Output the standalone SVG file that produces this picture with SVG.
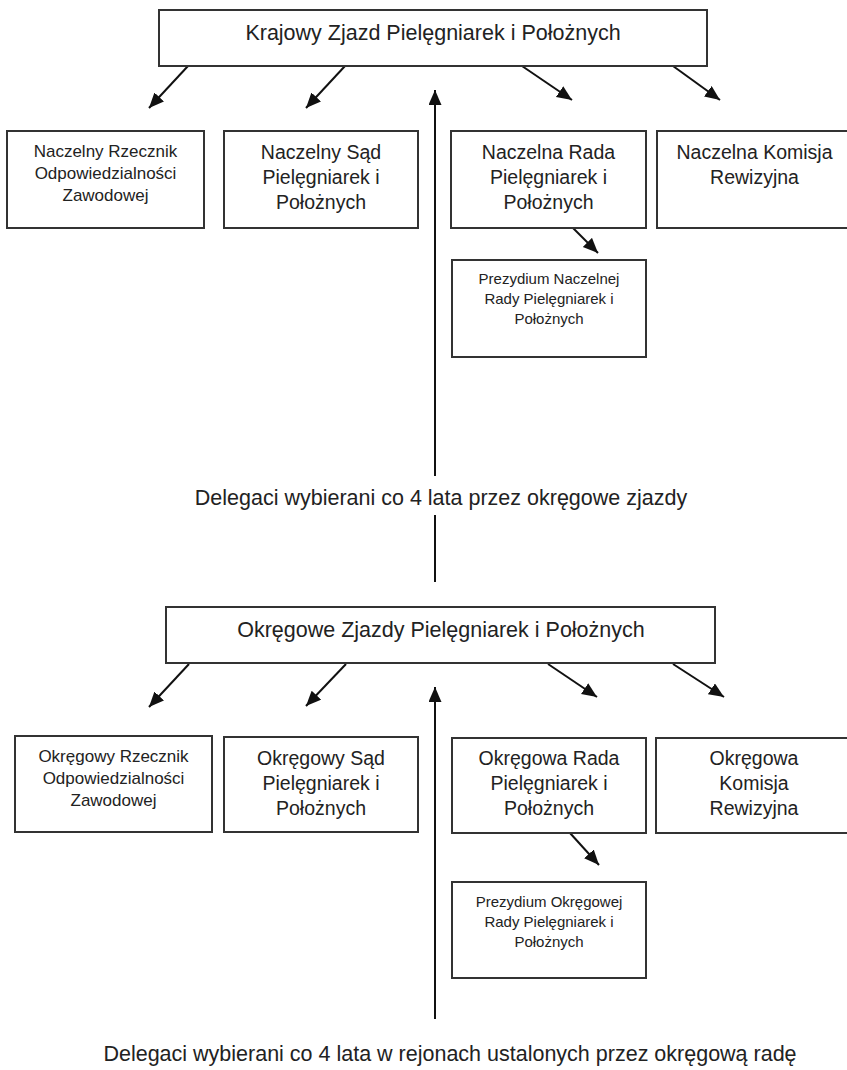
<svg xmlns="http://www.w3.org/2000/svg" width="847" height="1070" viewBox="0 0 847 1070">
<style>
.box{fill:#fff;stroke:#333;stroke-width:2}
.t{font-family:"Liberation Sans",Arial,sans-serif;fill:#222;text-anchor:middle}
.big{font-size:21.5px}
.m{font-size:19.5px}
.s{font-size:17px}
.xs{font-size:15px}
.c{stroke:#111;stroke-width:2;fill:none}
.a{marker-end:url(#ah)}
</style>
<defs>
<marker id="ah" markerUnits="userSpaceOnUse" markerWidth="16" markerHeight="14" refX="15" refY="6.5" orient="auto">
<path d="M0,0 L15,6.5 L0,13 z" fill="#111"/>
</marker>
</defs>
<rect width="847" height="1070" fill="#fff"/>
<g id="connectors">
<line class="c a" x1="188" y1="66" x2="149" y2="108"/>
<line class="c a" x1="345" y1="66" x2="306" y2="108"/>
<line class="c a" x1="522" y1="66" x2="572" y2="100"/>
<line class="c a" x1="673" y1="66" x2="720" y2="100"/>
<line class="c a" x1="435" y1="476" x2="435" y2="90"/>
<line class="c" x1="435" y1="515" x2="435" y2="582"/>
<line class="c a" x1="573" y1="228" x2="598" y2="253"/>
<line class="c a" x1="189" y1="664" x2="149" y2="707"/>
<line class="c a" x1="346" y1="664" x2="306" y2="706"/>
<line class="c a" x1="548" y1="664" x2="597" y2="697"/>
<line class="c a" x1="673" y1="664" x2="724" y2="697"/>
<line class="c a" x1="435" y1="1019" x2="435" y2="687"/>
<line class="c a" x1="570" y1="833" x2="599" y2="865"/>
</g>
<g id="krajowy">
<rect class="box" x="159" y="10" width="548" height="56"/>
<text class="t big" x="433" y="40">Krajowy Zjazd Pielęgniarek i Położnych</text>
</g>
<g id="naczelny-rzecznik">
<rect class="box" x="7" y="131" width="197" height="97"/>
<text class="t s" x="105.5" y="157">Naczelny Rzecznik</text>
<text class="t s" x="105.5" y="179">Odpowiedzialności</text>
<text class="t s" x="105.5" y="201">Zawodowej</text>
</g>
<g id="naczelny-sad">
<rect class="box" x="224" y="131" width="194" height="97"/>
<text class="t m" x="321" y="159">Naczelny Sąd</text>
<text class="t m" x="321" y="184">Pielęgniarek i</text>
<text class="t m" x="321" y="209">Położnych</text>
</g>
<g id="naczelna-rada">
<rect class="box" x="451" y="131" width="195" height="97"/>
<text class="t m" x="548.5" y="159">Naczelna Rada</text>
<text class="t m" x="548.5" y="184">Pielęgniarek i</text>
<text class="t m" x="548.5" y="209">Położnych</text>
</g>
<g id="naczelna-komisja">
<rect class="box" x="657" y="131" width="196" height="97"/>
<text class="t m" x="754.5" y="159">Naczelna Komisja</text>
<text class="t m" x="754.5" y="184">Rewizyjna</text>
</g>
<g id="prezydium-naczelnej">
<rect class="box" x="452" y="260" width="194" height="97"/>
<text class="t xs" x="549" y="284">Prezydium Naczelnej</text>
<text class="t xs" x="549" y="304">Rady Pielęgniarek i</text>
<text class="t xs" x="549" y="324">Położnych</text>
</g>
<g id="delegaci-1">
<text class="t big" x="441" y="505">Delegaci wybierani co 4 lata przez okręgowe zjazdy</text>
</g>
<g id="okregowe-zjazdy">
<rect class="box" x="166" y="607" width="549" height="56"/>
<text class="t big" x="441" y="637">Okręgowe Zjazdy Pielęgniarek i Położnych</text>
</g>
<g id="okregowy-rzecznik">
<rect class="box" x="15" y="736" width="197" height="96"/>
<text class="t s" x="113.5" y="762">Okręgowy Rzecznik</text>
<text class="t s" x="113.5" y="784">Odpowiedzialności</text>
<text class="t s" x="113.5" y="806">Zawodowej</text>
</g>
<g id="okregowy-sad">
<rect class="box" x="224" y="737" width="194" height="95"/>
<text class="t m" x="321" y="765">Okręgowy Sąd</text>
<text class="t m" x="321" y="790">Pielęgniarek i</text>
<text class="t m" x="321" y="815">Położnych</text>
</g>
<g id="okregowa-rada">
<rect class="box" x="452" y="738" width="194" height="95"/>
<text class="t m" x="549" y="765">Okręgowa Rada</text>
<text class="t m" x="549" y="790">Pielęgniarek i</text>
<text class="t m" x="549" y="815">Położnych</text>
</g>
<g id="okregowa-komisja">
<rect class="box" x="656" y="738" width="197" height="95"/>
<text class="t m" x="754" y="765">Okręgowa</text>
<text class="t m" x="754" y="790">Komisja</text>
<text class="t m" x="754" y="815">Rewizyjna</text>
</g>
<g id="prezydium-okregowej">
<rect class="box" x="452" y="882" width="194" height="96"/>
<text class="t xs" x="549" y="907">Prezydium Okręgowej</text>
<text class="t xs" x="549" y="927">Rady Pielęgniarek i</text>
<text class="t xs" x="549" y="947">Położnych</text>
</g>
<g id="delegaci-2">
<text class="t big" x="450" y="1061">Delegaci wybierani co 4 lata w rejonach ustalonych przez okręgową radę</text>
</g>
</svg>
